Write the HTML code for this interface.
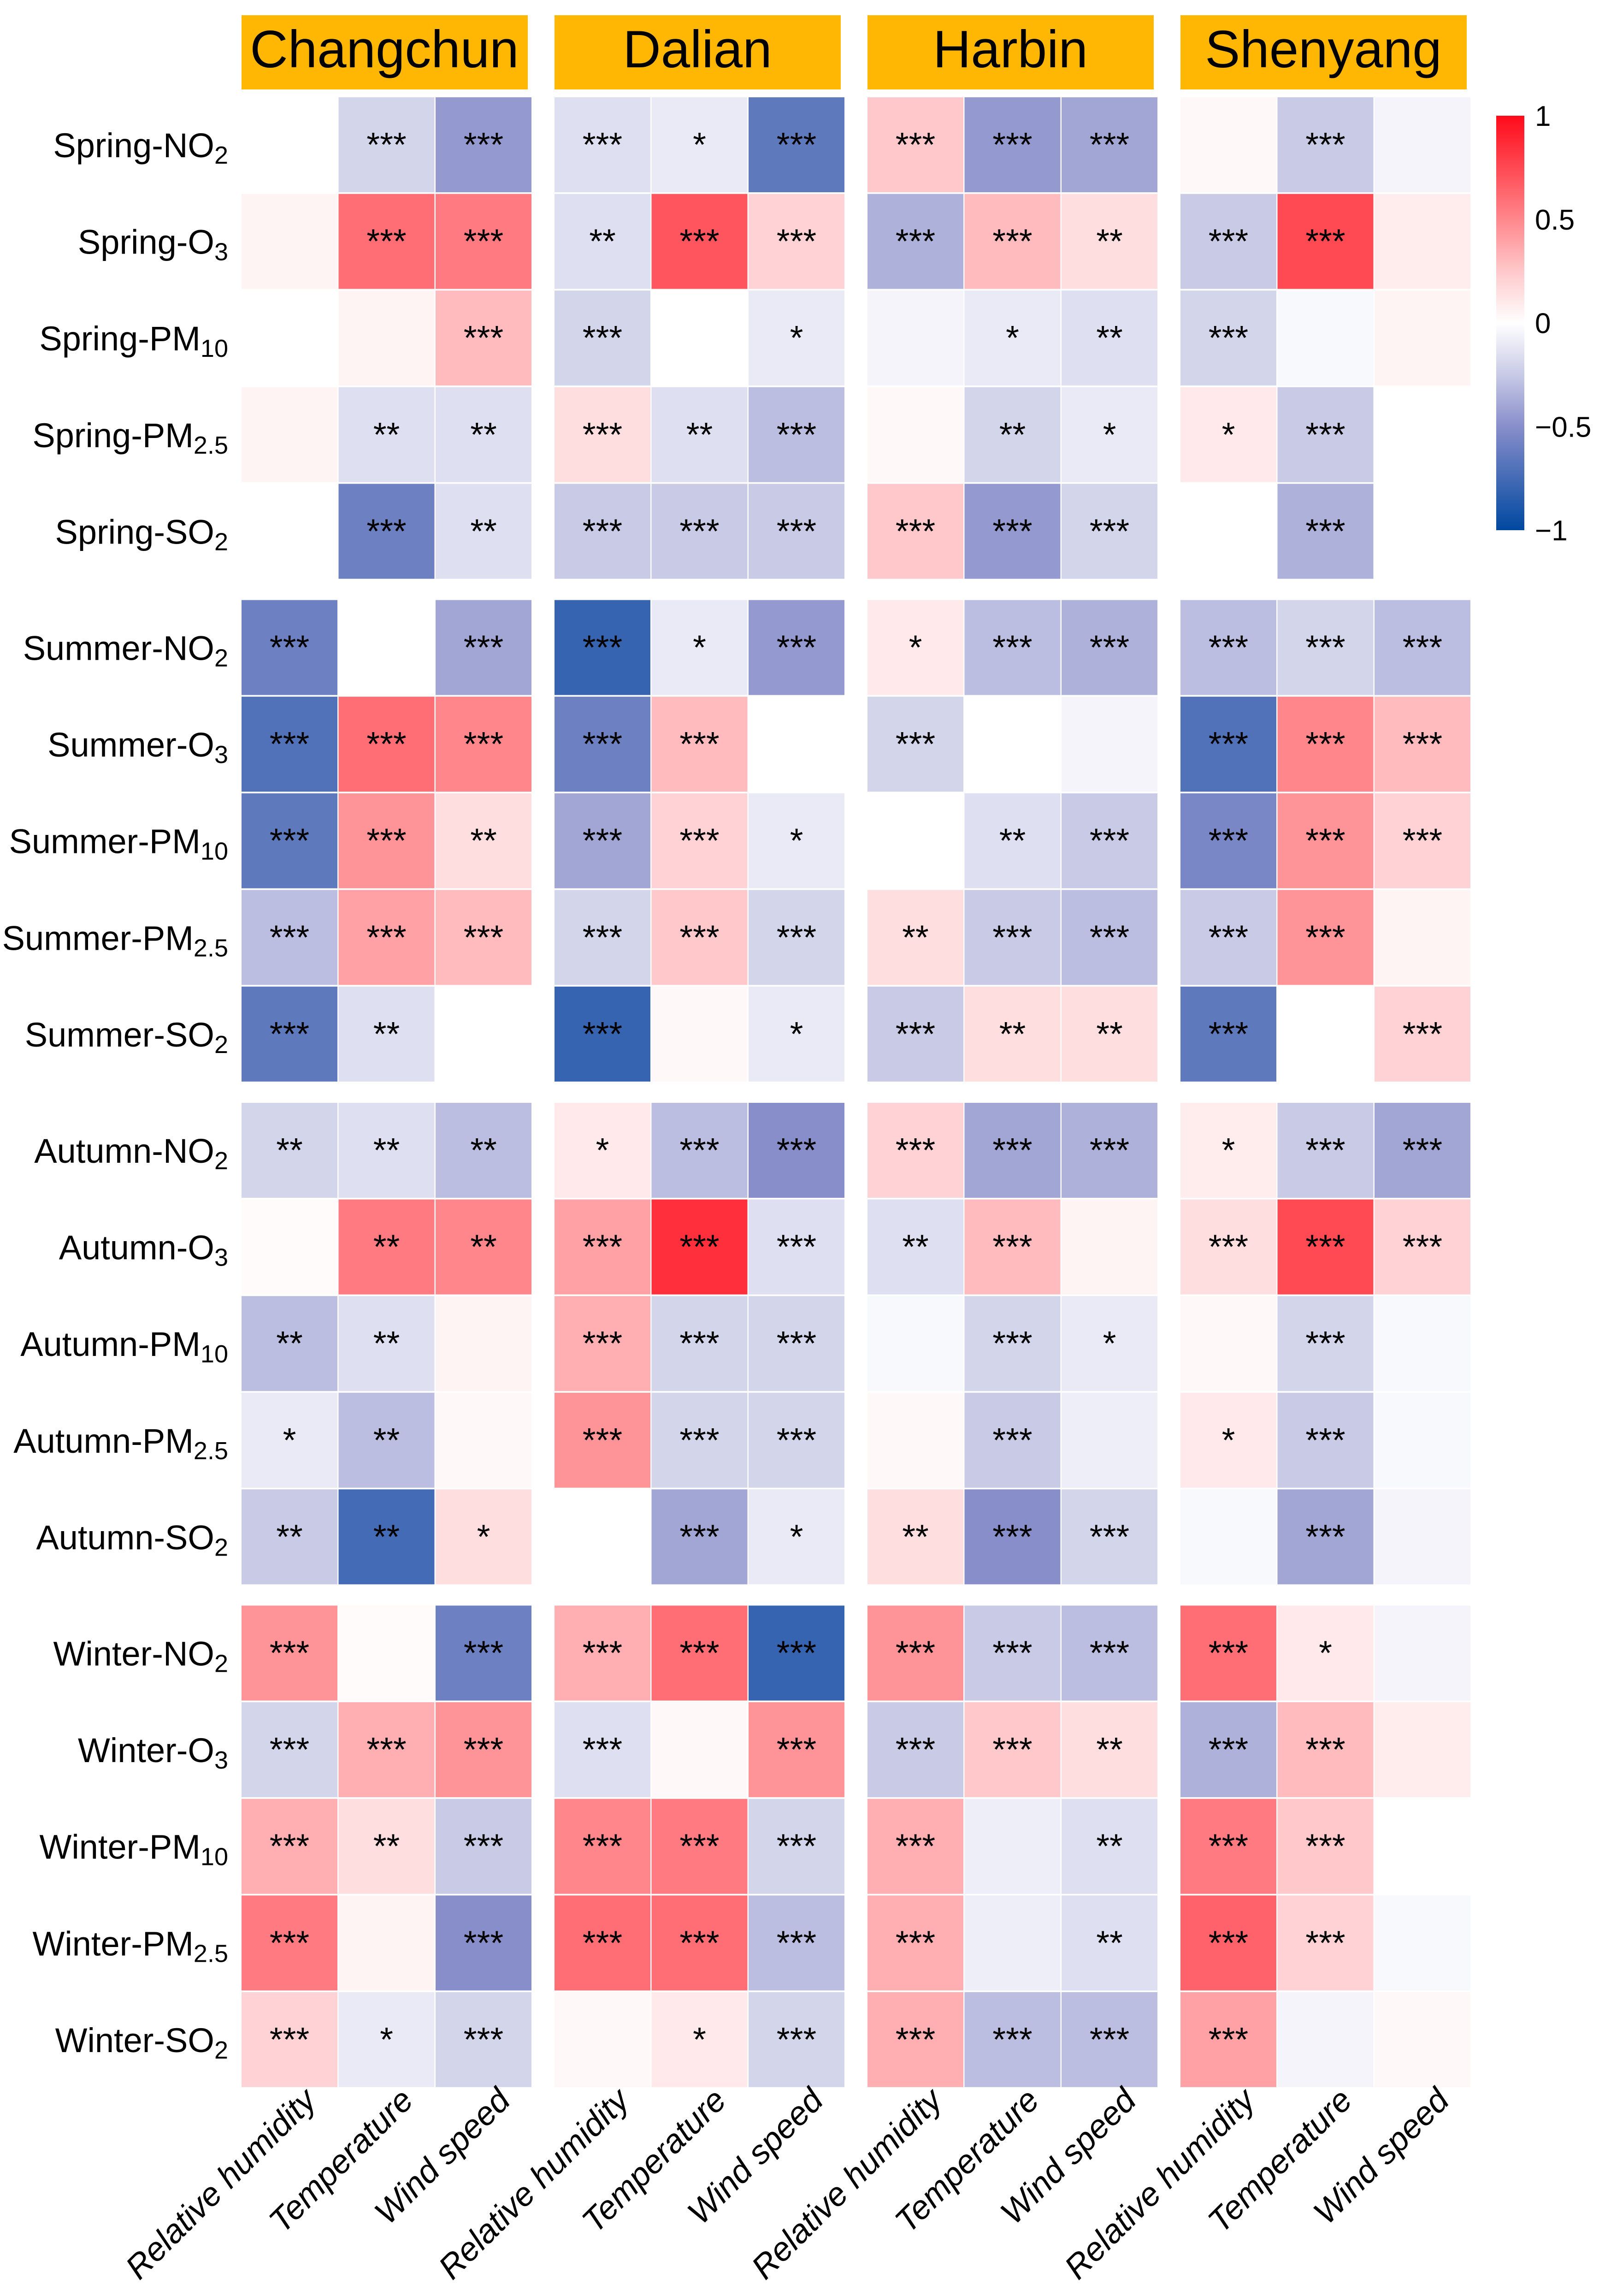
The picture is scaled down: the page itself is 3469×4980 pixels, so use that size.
<!DOCTYPE html>
<html><head><meta charset="utf-8"><style>
html,body{margin:0;padding:0;background:#fff;}
svg{display:block;font-family:"Liberation Sans",sans-serif;}
</style></head><body>
<svg id="chart" width="3469" height="4980" viewBox="0 0 3469 4980" xmlns="http://www.w3.org/2000/svg">
<defs>
<linearGradient id="cbgrad" x1="0" y1="0" x2="0" y2="1">
<stop offset="0" stop-color="rgb(255,10,25)"/>
<stop offset="0.25" stop-color="rgb(255,135,140)"/>
<stop offset="0.375" stop-color="rgb(255,200,202)"/>
<stop offset="0.5" stop-color="rgb(255,255,255)"/>
<stop offset="0.625" stop-color="rgb(200,202,230)"/>
<stop offset="0.75" stop-color="rgb(135,142,202)"/>
<stop offset="1" stop-color="rgb(0,72,160)"/>
</linearGradient>
</defs>
</svg>
<script>
const cities = ["Changchun","Dalian","Harbin","Shenyang"];
const seasons = ["Spring","Summer","Autumn","Winter"];
const pollutants = [["NO","2"],["O","3"],["PM","10"],["PM","2.5"],["SO","2"]];
const variables = ["Relative humidity","Temperature","Wind speed"];
const cbTicks = [1,0.5,0,-0.5,-1];
const cbTickLabels = ["1","0.5","0","\u22120.5","\u22121"];

const valuesChangchun = [
[0,-0.2,-0.45],[0.05,0.6,0.55],[0,0.05,0.3],[0.05,-0.15,-0.15],[0,-0.6,-0.15],
[-0.6,0,-0.4],[-0.7,0.6,0.5],[-0.65,0.45,0.15],[-0.3,0.4,0.3],[-0.65,-0.15,0],
[-0.2,-0.15,-0.3],[0.02,0.55,0.5],[-0.3,-0.15,0.05],[-0.1,-0.3,0.03],[-0.25,-0.75,0.15],
[0.45,0.02,-0.6],[-0.2,0.35,0.45],[0.35,0.15,-0.25],[0.55,0.05,-0.5],[0.2,-0.1,-0.2]];
const sigChangchun = [
["","***","***"],["","***","***"],["","","***"],["","**","**"],["","***","**"],
["***","","***"],["***","***","***"],["***","***","**"],["***","***","***"],["***","**",""],
["**","**","**"],["","**","**"],["**","**",""],["*","**",""],["**","**","*"],
["***","","***"],["***","***","***"],["***","**","***"],["***","","***"],["***","*","***"]];
const valuesDalian = [
[-0.15,-0.1,-0.65],[-0.15,0.7,0.2],[-0.2,0,-0.1],[0.15,-0.15,-0.3],[-0.25,-0.25,-0.25],
[-0.8,-0.1,-0.45],[-0.6,0.3,0],[-0.4,0.2,-0.1],[-0.2,0.25,-0.2],[-0.8,0.03,-0.1],
[0.1,-0.3,-0.5],[0.4,0.85,-0.15],[0.35,-0.2,-0.2],[0.45,-0.2,-0.2],[0,-0.4,-0.1],
[0.35,0.6,-0.8],[-0.15,0.03,0.45],[0.5,0.55,-0.2],[0.6,0.6,-0.3],[0.03,0.1,-0.2]];
const sigDalian = [
["***","*","***"],["**","***","***"],["***","","*"],["***","**","***"],["***","***","***"],
["***","*","***"],["***","***",""],["***","***","*"],["***","***","***"],["***","","*"],
["*","***","***"],["***","***","***"],["***","***","***"],["***","***","***"],["","***","*"],
["***","***","***"],["***","","***"],["***","***","***"],["***","***","***"],["","*","***"]];
const valuesHarbin = [
[0.25,-0.45,-0.4],[-0.35,0.3,0.15],[-0.05,-0.1,-0.15],[0.03,-0.2,-0.1],[0.25,-0.45,-0.2],
[0.1,-0.3,-0.35],[-0.2,0,-0.05],[0,-0.15,-0.25],[0.15,-0.25,-0.3],[-0.25,0.15,0.15],
[0.2,-0.4,-0.35],[-0.15,0.3,0.05],[-0.03,-0.2,-0.1],[0.03,-0.25,-0.08],[0.15,-0.5,-0.2],
[0.45,-0.25,-0.3],[-0.25,0.25,0.15],[0.35,-0.08,-0.15],[0.35,-0.08,-0.15],[0.35,-0.3,-0.3]];
const sigHarbin = [
["***","***","***"],["***","***","**"],["","*","**"],["","**","*"],["***","***","***"],
["*","***","***"],["***","",""],["","**","***"],["**","***","***"],["***","**","**"],
["***","***","***"],["**","***",""],["","***","*"],["","***",""],["**","***","***"],
["***","***","***"],["***","***","**"],["***","","**"],["***","","**"],["***","***","***"]];
const valuesShenyang = [
[0.03,-0.25,-0.05],[-0.25,0.75,0.08],[-0.2,-0.03,0.05],[0.1,-0.25,0],[0,-0.35,0],
[-0.3,-0.2,-0.3],[-0.7,0.5,0.3],[-0.55,0.45,0.2],[-0.25,0.45,0.05],[-0.65,0,0.2],
[0.08,-0.25,-0.4],[0.15,0.75,0.2],[0.03,-0.2,-0.03],[0.1,-0.25,-0.03],[-0.03,-0.4,-0.05],
[0.6,0.1,-0.05],[-0.35,0.3,0.08],[0.55,0.25,0],[0.65,0.2,-0.03],[0.4,-0.05,0.03]];
const sigShenyang = [
["","***",""],["***","***",""],["***","",""],["*","***",""],["","***",""],
["***","***","***"],["***","***","***"],["***","***","***"],["***","***",""],["***","","***"],
["*","***","***"],["***","***","***"],["","***",""],["*","***",""],["","***",""],
["***","*",""],["***","***",""],["***","***",""],["***","***",""],["***","",""]];

const allValues = [valuesChangchun,valuesDalian,valuesHarbin,valuesShenyang];
const allSig = [sigChangchun,sigDalian,sigHarbin,sigShenyang];

const NS = "http://www.w3.org/2000/svg";
const svg = document.getElementById("chart");
const cellW = 208, cellH = 208;
function cityX(ci){ return 524 + ci*679; }
function colX(ci, vi){ return cityX(ci) + vi*(cellW+2.5); }
function seasonY(si){ return 211 + si*1090.5; }
function rowY(si, pi){ return seasonY(si) + pi*209.6; }
function cbY(v){ return 251 + (1 - v)/2*(1150-251); }
const stops = [[-1,[0,72,160]],[-0.5,[135,142,202]],[-0.25,[200,202,230]],[0,[255,255,255]],[0.25,[255,200,202]],[0.5,[255,135,140]],[1,[255,10,25]]];
function colorOf(v){
  for(let i=0;i<stops.length-1;i++){
    const a=stops[i], b=stops[i+1];
    if(v>=a[0] && v<=b[0]){
      const t=(v-a[0])/(b[0]-a[0]);
      const c=a[1].map((x,k)=>Math.round(x+(b[1][k]-x)*t));
      return "rgb("+c.join(",")+")";
    }
  }
  return v<0?"rgb(0,72,160)":"rgb(255,10,25)";
}
function mk(tag, attrs){ const e=document.createElementNS(NS,tag); for(const k in attrs) e.setAttribute(k, attrs[k]); return e; }

cities.forEach((c,ci)=>{
  const g = mk("g",{});
  
  
  g.appendChild(mk("rect",{x:cityX(ci),y:33,width:621,height:161,fill:"#FFB703"}));
  const t = mk("text",{x:cityX(ci)+310,y:146,"font-size":114,"text-anchor":"middle",fill:"#000"});
  t.textContent = c;
  g.appendChild(t);
  svg.appendChild(g);
});

allValues.forEach((vals,ci)=>{
  vals.forEach((row,ri)=>{
    const si = Math.floor(ri/5), pi = ri%5;
    row.forEach((v,vi)=>{
      const x = colX(ci,vi), y = rowY(si,pi);
      const r = mk("rect",{x:x,y:y,width:cellW,height:cellH-2,fill:colorOf(v)});
      
      
      svg.appendChild(r);
      const s = allSig[ci][ri][vi];
      if(s){
        const t = mk("text",{x:x+cellW/2,y:y+cellH/2+24,"font-size":74,"text-anchor":"middle",fill:"#000"});
        
        
        t.textContent = s;
        svg.appendChild(t);
      }
    });
  });
});

seasons.forEach((s,si)=>{
  pollutants.forEach((p,pi)=>{
    const y = rowY(si,pi) + cellH/2 + 26;
    const t = mk("text",{x:495,y:y,"font-size":74,"text-anchor":"end",fill:"#000"});
    
    
    const a = mk("tspan",{}); a.textContent = s + "-" + p[0];
    const b = mk("tspan",{dy:14,"font-size":54}); b.textContent = p[1];
    t.appendChild(a); t.appendChild(b);
    svg.appendChild(t);
  });
});

cities.forEach((c,ci)=>{
  variables.forEach((v,vi)=>{
    const x = colX(ci,vi) + cellW/2 + 62, y = 4560;
    const t = mk("text",{x:x,y:y,"font-size":72,"font-style":"italic","text-anchor":"end",fill:"#000",transform:"rotate(-45 "+x+" "+y+")"});
    
    
    t.textContent = v;
    svg.appendChild(t);
  });
});

const cb = mk("rect",{x:3246,y:251,width:61,height:899,fill:"url(#cbgrad)"});


svg.appendChild(cb);
cbTicks.forEach((v,i)=>{
  const t = mk("text",{x:3330,y:cbY(v)+22,"font-size":62,fill:"#000"});
  
  
  t.textContent = cbTickLabels[i];
  svg.appendChild(t);
});
</script>
</body></html>
